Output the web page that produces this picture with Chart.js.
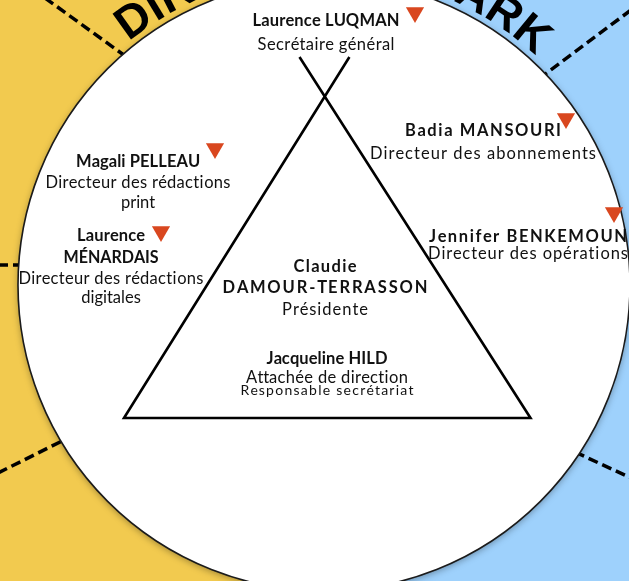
<!DOCTYPE html>
<html><head><meta charset="utf-8">
<script src="https://cdn.jsdelivr.net/npm/chart.js@4/dist/chart.umd.min.js"></script>
<style>html,body{margin:0;padding:0;background:#fff;overflow:hidden}canvas{display:block}</style>
</head><body>
<canvas id="c" width="629" height="581"></canvas>
<script>
// ---- data ----
const names = ["Laurence LUQMAN", "Badia MANSOURI", "Jennifer BENKEMOUN", "Magali PELLEAU", ["Laurence", "MÉNARDAIS"], ["Claudie", "DAMOUR-TERRASSON"], "Jacqueline HILD"];
const roles = ["Secrétaire général", "Directeur des abonnements", "Directeur des opérations", ["Directeur des rédactions", "print"], ["Directeur des rédactions", "digitales"], "Présidente", ["Attachée de direction", "Responsable secrétariat"]];
const flagged = [true, true, true, true, true, false, false];
const ringLeft = "DIRECTION";
const ringRight = "MARK";

// ---- layout (diagram units, 1 unit = 1 px) ----
const W = 629, H = 581;
const circle = {x: 324, y: 285, r: 306};
// per person: centre x, baselines of each line, target widths of each line
const labelPos = [
  {cx: 326, base: [26, 50], w: [147, 137]},
  {cx: 483, base: [136, 159], w: [156, 226]},
  {cx: 528, base: [242, 259], w: [198, 200]},
  {cx: 138, base: [167, 188, 208], w: [124, 185, 0]},
  {cx: 111, base: [241, 263, 284, 303], w: [68, 95, 185, 0]},
  {cx: 325, base: [272, 293, 315], w: [63, 205, 86]},
  {cx: 327, base: [364, 383, 395], w: [121, 162, 173]}
];
const markerPos = [[415, 12.5], [566, 118.5], [614, 212.5], [215, 148.5], [161, 231.5], null, null];
const frame = [[299.5, 57], [530.5, 418], [124, 418], [349.4, 57]];
const dashes = [[[45, -2], [128, 58]], [[631, 10], [540, 78]], [[-2, 265], [26, 265]], [[-2, 473], [66, 439]], [[575, 452], [631, 478]]];
const ringLeftStart = -125.7, ringRightEnd = -50.3;

const YELLOW = '#F2CA4F', BLUE = '#9ED1FC', MARK = '#D9471F';

const markerData = [];
flagged.forEach((f, i) => { if (f && markerPos[i]) markerData.push({x: markerPos[i][0], y: markerPos[i][1]}); });

const FAM = '"Lato","Open Sans",sans-serif';
function fitText(ctx, text, cx, y, target, size, bold) {
  ctx.font = (bold ? 'bold ' : '') + size + 'px ' + FAM;
  const w = ctx.measureText(text).width;
  ctx.textAlign = 'left';
  if (!target) target = w;
  const chars = [...text];
  let sx = 1, extra = 0;
  if (w > target) sx = target / w;
  else if (chars.length > 1) extra = (target - w) / (chars.length - 1);
  ctx.save();
  ctx.translate(cx - target / 2, y);
  ctx.scale(sx, 1);
  let prefix = '';
  chars.forEach((ch, i) => {
    ctx.fillText(ch, ctx.measureText(prefix).width + i * extra, 0);
    prefix += ch;
  });
  ctx.restore();
}

function ringText(ctx, xs, ys, text, angleDeg, anchorFirst) {
  const R = 312, Rm = 329;
  ctx.font = 'bold 46px "Liberation Sans", Arial, sans-serif';
  ctx.fillStyle = '#000';
  ctx.textAlign = 'center';
  ctx.textBaseline = 'alphabetic';
  const chars = [...text];
  const ws = chars.map(c => ctx.measureText(c).width + 2);
  const cpx = xs.getPixelForValue(circle.x), cpy = ys.getPixelForValue(circle.y);
  let angs = [];
  let a = angleDeg * Math.PI / 180;
  if (anchorFirst) {
    angs.push(a);
    for (let i = 1; i < chars.length; i++) { a += (ws[i - 1] / 2 + ws[i] / 2) / Rm; angs.push(a); }
  } else {
    angs[chars.length - 1] = a;
    for (let i = chars.length - 2; i >= 0; i--) { a -= (ws[i + 1] / 2 + ws[i] / 2) / Rm; angs[i] = a; }
  }
  chars.forEach((ch, i) => {
    ctx.save();
    ctx.translate(cpx, cpy);
    ctx.rotate(angs[i] + Math.PI / 2);
    ctx.fillText(ch, 0, -R);
    ctx.restore();
  });
}

const diagram = {
  id: 'diagram',
  beforeDatasetsDraw(chart) {
    const ctx = chart.ctx, xs = chart.scales.x, ys = chart.scales.y;
    const X = v => xs.getPixelForValue(v), Y = v => ys.getPixelForValue(v);
    ctx.save();
    ctx.fillStyle = YELLOW;
    ctx.fillRect(X(0), Y(0), X(circle.x) - X(0), Y(H) - Y(0));
    ctx.fillStyle = BLUE;
    ctx.fillRect(X(circle.x), Y(0), X(W) - X(circle.x), Y(H) - Y(0));
    ctx.strokeStyle = '#000';
    ctx.lineWidth = 3.5;
    ctx.setLineDash([10, 5]);
    dashes.forEach(([a, b]) => { ctx.beginPath(); ctx.moveTo(X(a[0]), Y(a[1])); ctx.lineTo(X(b[0]), Y(b[1])); ctx.stroke(); });
    ctx.setLineDash([]);
    ringText(ctx, xs, ys, ringLeft, ringLeftStart, true);
    ringText(ctx, xs, ys, ringRight, ringRightEnd, false);
    const rpx = X(circle.x + circle.r) - X(circle.x);
    ctx.beginPath();
    ctx.arc(X(circle.x), Y(circle.y), rpx, 0, Math.PI * 2);
    ctx.shadowColor = 'rgba(0,0,0,0.35)';
    ctx.shadowBlur = 7;
    ctx.shadowOffsetY = 2;
    ctx.fillStyle = '#fff';
    ctx.fill();
    ctx.shadowColor = 'transparent';
    ctx.lineWidth = 1.6;
    ctx.strokeStyle = '#1b1b1b';
    ctx.stroke();
    ctx.restore();
  },
  afterDatasetsDraw(chart) {
    const ctx = chart.ctx, xs = chart.scales.x, ys = chart.scales.y;
    ctx.save();
    ctx.fillStyle = '#111';
    ctx.textBaseline = 'alphabetic';
    names.forEach((nm, i) => {
      const nl = Array.isArray(nm) ? nm : [nm];
      const rl = Array.isArray(roles[i]) ? roles[i] : [roles[i]];
      const p = labelPos[i];
      const cx = xs.getPixelForValue(p.cx);
      let k = 0;
      nl.forEach(t => { fitText(ctx, t, cx, ys.getPixelForValue(p.base[k]), p.w[k], 16.5, true); k++; });
      rl.forEach((t, j) => {
        const small = (i === 6 && j === 1);
        fitText(ctx, t, cx, ys.getPixelForValue(p.base[k]), p.w[k], small ? 14 : 16.5, false); k++;
      });
    });
    ctx.restore();
  }
};

new Chart(document.getElementById('c'), {
  type: 'scatter',
  data: {
    datasets: [
      {
        data: frame.map(p => ({x: p[0], y: p[1]})),
        showLine: true, borderColor: '#000', borderWidth: 2.6, pointRadius: 0,
        borderJoinStyle: 'miter', borderCapStyle: 'butt', tension: 0, fill: false
      },
      {
        data: markerData,
        pointStyle: 'triangle', rotation: 180, pointRadius: 10.5,
        backgroundColor: MARK, borderWidth: 0, pointHoverRadius: 10.5
      }
    ]
  },
  options: {
    responsive: false, animation: false, events: [],
    layout: {padding: 0, autoPadding: false},
    plugins: {legend: {display: false}, tooltip: {enabled: false}},
    scales: {
      x: {type: 'linear', min: 0, max: W, display: false},
      y: {type: 'linear', min: 0, max: H, reverse: true, display: false}
    }
  },
  plugins: [diagram]
});
</script>
</body></html>
